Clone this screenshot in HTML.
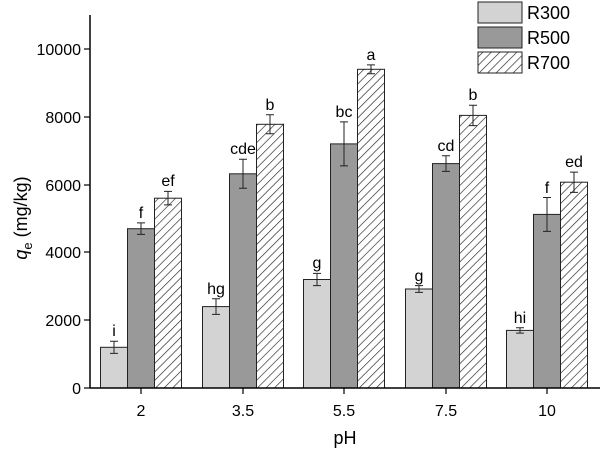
<!DOCTYPE html>
<html><head><style>body{margin:0;background:#fff}svg{display:block}</style></head><body>
<svg width="600" height="452" viewBox="0 0 600 452" font-family="Liberation Sans, sans-serif">
<defs><pattern id="h" patternUnits="userSpaceOnUse" width="6" height="6" patternTransform="rotate(45)"><rect width="6" height="6" fill="#fff"/><line x1="0" y1="0" x2="0" y2="6" stroke="#222" stroke-width="1.3"/></pattern></defs>
<g stroke="#222" stroke-width="1">
<rect x="100.5" y="347.3" width="27" height="40.7" fill="#d3d3d3"/>
<rect x="127.5" y="228.7" width="27" height="159.3" fill="#999"/>
<rect x="154.5" y="198.2" width="27" height="189.8" fill="url(#h)"/>
<rect x="202.5" y="306.6" width="27" height="81.4" fill="#d3d3d3"/>
<rect x="229.5" y="173.8" width="27" height="214.2" fill="#999"/>
<rect x="256.5" y="124.3" width="27" height="263.7" fill="url(#h)"/>
<rect x="303.5" y="279.5" width="27" height="108.5" fill="#d3d3d3"/>
<rect x="330.5" y="143.9" width="27" height="244.1" fill="#999"/>
<rect x="357.5" y="69.3" width="27" height="318.7" fill="url(#h)"/>
<rect x="405.5" y="289" width="27" height="99" fill="#d3d3d3"/>
<rect x="432.5" y="163.6" width="27" height="224.4" fill="#999"/>
<rect x="459.5" y="115.4" width="27" height="272.6" fill="url(#h)"/>
<rect x="506.5" y="330.4" width="27" height="57.6" fill="#d3d3d3"/>
<rect x="533.5" y="214.4" width="27" height="173.6" fill="#999"/>
<rect x="560.5" y="182.2" width="27" height="205.8" fill="url(#h)"/>
<path fill="none" d="
M114 341.2V353.4M110 341.2h8M110 353.4h8
M141 222.9V234.4M137 222.9h8M137 234.4h8
M168 191.4V204.9M164 191.4h8M164 204.9h8
M216 298.8V314.4M212 298.8h8M212 314.4h8
M243 159.2V188.3M239 159.2h8M239 188.3h8
M270 114.8V133.8M266 114.8h8M266 133.8h8
M317 273.4V285.6M313 273.4h8M313 285.6h8
M344 121.9V165.9M340 121.9h8M340 165.9h8
M371 64.9V73.8M367 64.9h8M367 73.8h8
M419 285.6V292.4M415 285.6h8M415 292.4h8
M446 155.8V171.4M442 155.8h8M442 171.4h8
M473 105.3V125.6M469 105.3h8M469 125.6h8
M520 327.7V333.1M516 327.7h8M516 333.1h8
M547 197.5V231.4M543 197.5h8M543 231.4h8
M574 172.1V192.4M570 172.1h8M570 192.4h8"/>
</g>
<g font-size="16" text-anchor="middle">
<text x="114" y="336">i</text><text x="141" y="218">f</text><text x="168" y="186">ef</text>
<text x="216" y="294">hg</text><text x="243" y="154">cde</text><text x="270" y="110">b</text>
<text x="317" y="268">g</text><text x="344" y="117">bc</text><text x="371" y="60">a</text>
<text x="419" y="281">g</text><text x="446" y="151">cd</text><text x="473" y="100">b</text>
<text x="520" y="323">hi</text><text x="547" y="193">f</text><text x="574" y="167">ed</text>
</g>
<line x1="90" y1="15" x2="90" y2="388" stroke="#000" stroke-width="1.5"/>
<line x1="90" y1="388" x2="600" y2="388" stroke="#000" stroke-width="1.5"/>
<g font-size="16" text-anchor="end" fill="#000">
<text x="81" y="394">0</text><text x="81" y="326">2000</text><text x="81" y="258">4000</text><text x="81" y="191">6000</text><text x="81" y="123">8000</text><text x="81" y="55">10000</text>
</g>
<g stroke="#000" stroke-width="1.2"><line x1="84" y1="388" x2="90" y2="388"/><line x1="84" y1="320" x2="90" y2="320"/><line x1="84" y1="252" x2="90" y2="252"/><line x1="84" y1="185" x2="90" y2="185"/><line x1="84" y1="117" x2="90" y2="117"/><line x1="84" y1="49" x2="90" y2="49"/>
<line x1="141" y1="388" x2="141" y2="394"/><line x1="243" y1="388" x2="243" y2="394"/><line x1="344" y1="388" x2="344" y2="394"/><line x1="446" y1="388" x2="446" y2="394"/><line x1="547" y1="388" x2="547" y2="394"/></g>
<g font-size="16" text-anchor="middle"><text x="141" y="416">2</text><text x="243" y="416">3.5</text><text x="344" y="416">5.5</text><text x="446" y="416">7.5</text><text x="547" y="416">10</text>
<text x="345" y="444" font-size="18">pH</text></g>
<text transform="translate(27,218) rotate(-90)" font-size="18" text-anchor="middle"><tspan font-style="italic">q</tspan><tspan font-size="13" dy="5">e</tspan><tspan dy="-5"> (mg/kg)</tspan></text>
<g font-size="18"><rect x="478" y="2" width="44" height="21" fill="#d3d3d3" stroke="#222"/><text x="527" y="19">R300</text>
<rect x="478" y="27" width="44" height="21" fill="#999" stroke="#222"/><text x="527" y="44">R500</text>
<rect x="478" y="52" width="44" height="21" fill="url(#h)" stroke="#222"/><text x="527" y="69">R700</text></g>
</svg>
</body></html>
